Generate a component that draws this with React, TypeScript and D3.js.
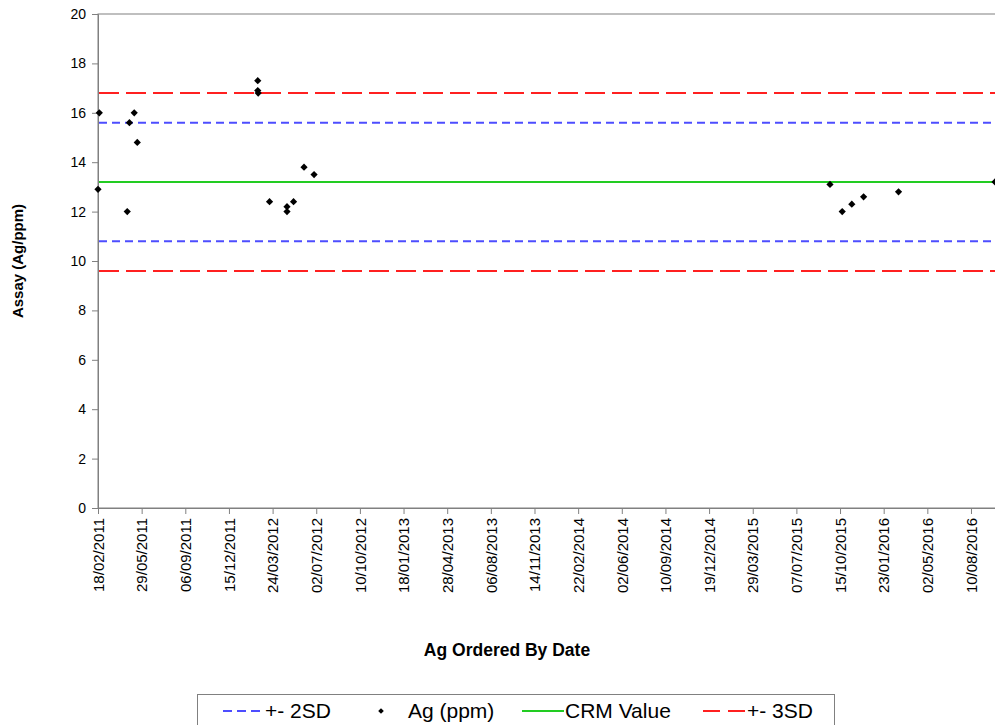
import React, { useEffect, useRef } from 'react';
import * as d3 from 'd3';

// sample dates and Ag assays (ppm)
const sampleDates = [
  '18/02/2011', '21/02/2011', '26/04/2011', '01/05/2011', '12/05/2011', '19/05/2011',
  '19/02/2012', '19/02/2012', '20/02/2012', '17/03/2012', '26/04/2012', '26/04/2012',
  '11/05/2012', '04/06/2012', '27/06/2012',
  '22/09/2015', '20/10/2015', '11/11/2015', '08/12/2015', '26/02/2016', '04/10/2016',
];
const agValues = [
  12.9, 16.0, 12.0, 15.6, 16.0, 14.8,
  17.3, 16.9, 16.8, 12.4, 12.2, 12.0,
  12.4, 13.8, 13.5,
  13.1, 12.0, 12.3, 12.6, 12.8, 13.2,
];

const crmValue = [13.2];
const twoSD = [15.6, 10.8];
const threeSD = [16.8, 9.6];

const xTickLabels = [
  '18/02/2011', '29/05/2011', '06/09/2011', '15/12/2011', '24/03/2012', '02/07/2012',
  '10/10/2012', '18/01/2013', '28/04/2013', '06/08/2013', '14/11/2013', '22/02/2014',
  '02/06/2014', '10/09/2014', '19/12/2014', '29/03/2015', '07/07/2015', '15/10/2015',
  '23/01/2016', '02/05/2016', '10/08/2016',
];
const xDomain = ['18/02/2011', '07/10/2016'];
const yTicks = [0, 2, 4, 6, 8, 10, 12, 14, 16, 18, 20];

const FONT = 'Liberation Sans, Arial, sans-serif';

const App = () => {
  const svgRef = useRef<SVGSVGElement>(null);

  useEffect(() => {
    if (!svgRef.current) return;
    const width = 995;
    const height = 725;
    const left = 98, top = 14, bottom = 508;
    const parse = d3.utcParse('%d/%m/%Y');

    const svg = d3.select(svgRef.current);
    svg.selectAll('*').remove();
    svg.attr('width', width).attr('height', height);

    const x = d3.scaleUtc()
      .domain(xDomain.map(d => parse(d) as Date))
      .range([left, 996.3]);
    const y = d3.scaleLinear().domain([0, 20]).range([bottom, top]);

    // plot frame
    svg.append('rect')
      .attr('x', left).attr('y', top)
      .attr('width', x.range()[1] - left).attr('height', bottom - top)
      .attr('fill', 'white').attr('stroke', '#808080').attr('stroke-width', 1);

    // y axis
    const yAxis = svg.append('g')
      .attr('transform', `translate(${left},0)`)
      .call(d3.axisLeft(y).tickValues(yTicks).tickSize(6).tickPadding(6));
    yAxis.selectAll('path, line').attr('stroke', '#808080');
    yAxis.selectAll('text')
      .attr('font-family', FONT).attr('font-size', 14).attr('fill', '#000');

    // x axis
    const xAxis = svg.append('g')
      .attr('transform', `translate(0,${bottom})`)
      .call(d3.axisBottom(x)
        .tickValues(xTickLabels.map(d => parse(d) as Date))
        .tickFormat((_, i) => xTickLabels[i])
        .tickSize(6));
    xAxis.selectAll('path, line').attr('stroke', '#808080');
    xAxis.selectAll('text')
      .attr('font-family', FONT).attr('font-size', 15).attr('fill', '#000')
      .attr('transform', 'rotate(-90)')
      .attr('text-anchor', 'end')
      .attr('x', -10).attr('y', 0).attr('dy', '0.35em');

    // reference lines
    const hline = (v: number, color: string, dash: string | null) => {
      svg.append('line')
        .attr('x1', left + 1).attr('x2', x.range()[1])
        .attr('y1', y(v)).attr('y2', y(v))
        .attr('stroke', color).attr('stroke-width', 2)
        .attr('stroke-dasharray', dash);
    };
    twoSD.forEach(v => hline(v, '#4d4dff', '8,5'));
    crmValue.forEach(v => hline(v, '#22cc22', null));
    threeSD.forEach(v => hline(v, '#ff2020', '20,7'));

    // points
    const diamond = d3.symbol().type(d3.symbolSquare).size(26);
    svg.append('g')
      .selectAll('path')
      .data(agValues)
      .enter().append('path')
      .attr('d', diamond)
      .attr('transform', (d, i) => `translate(${x(parse(sampleDates[i]) as Date)},${y(d)}) rotate(45)`)
      .attr('fill', '#000');

    // axis titles
    svg.append('text')
      .attr('x', 507).attr('y', 656)
      .attr('text-anchor', 'middle')
      .attr('font-family', FONT).attr('font-size', 17.5).attr('font-weight', 'bold')
      .text('Ag Ordered By Date');
    svg.append('text')
      .attr('transform', `translate(23,${(top + bottom) / 2}) rotate(-90)`)
      .attr('text-anchor', 'middle')
      .attr('font-family', FONT).attr('font-size', 15).attr('font-weight', 'bold')
      .text('Assay (Ag/ppm)');

    // legend
    const lg = svg.append('g');
    lg.append('rect')
      .attr('x', 197.5).attr('y', 694.5).attr('width', 637).attr('height', 40)
      .attr('fill', 'white').attr('stroke', '#808080');
    const ly = 711;
    const items = [
      { x: 223, w: 41, label: '+- 2SD', color: '#4d4dff', dash: '9,5', kind: 'line' },
      { x: 372, w: 35, label: 'Ag (ppm)', color: '#000', dash: null, kind: 'point' },
      { x: 522, w: 42, label: 'CRM Value', color: '#22cc22', dash: null, kind: 'line' },
      { x: 703, w: 43, label: '+- 3SD', color: '#ff2020', dash: '17,8', kind: 'line' },
    ];
    items.forEach(it => {
      if (it.kind === 'line') {
        lg.append('line')
          .attr('x1', it.x).attr('x2', it.x + it.w).attr('y1', ly).attr('y2', ly)
          .attr('stroke', it.color).attr('stroke-width', 2)
          .attr('stroke-dasharray', it.dash);
      } else {
        lg.append('path')
          .attr('d', d3.symbol().type(d3.symbolSquare).size(16)())
          .attr('transform', `translate(${it.x + 9},${ly}) rotate(45)`)
          .attr('fill', it.color);
      }
      lg.append('text')
        .attr('x', it.x + it.w + 1).attr('y', ly + 7)
        .attr('font-family', FONT).attr('font-size', 21).attr('fill', '#000')
        .text(it.label);
    });
  }, []);

  return (
    <svg ref={svgRef} style={{ position: 'absolute', left: 0, top: 0 }}></svg>
  );
};

export default App;
